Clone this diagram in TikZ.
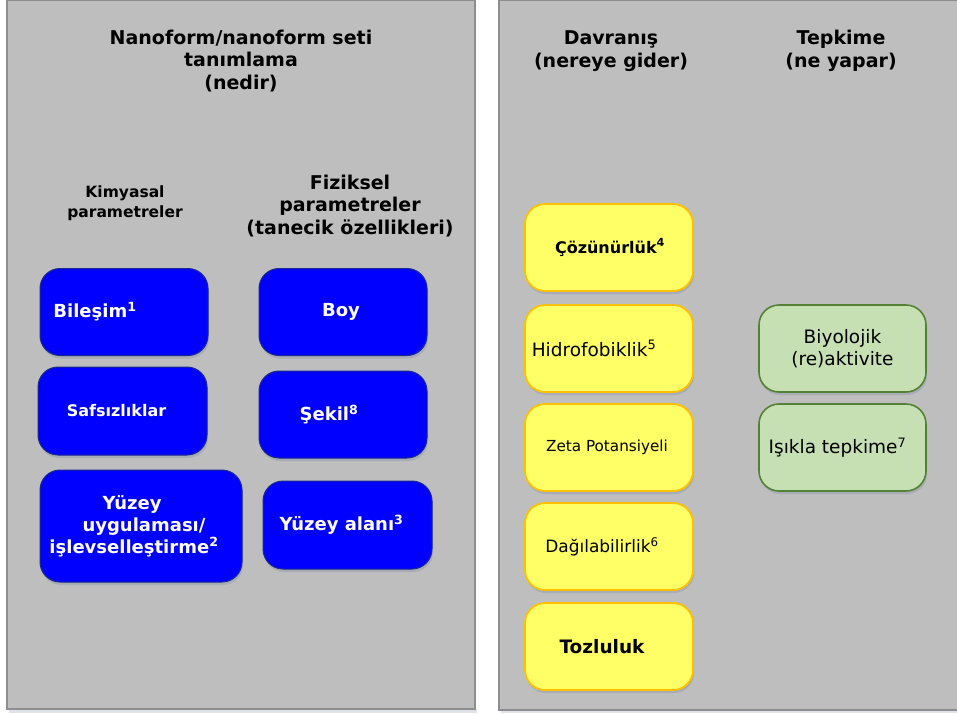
\documentclass[tikz,border=0pt]{standalone}
\usepackage{fontspec}
\setmainfont{DejaVu Sans}
\usetikzlibrary{shadows}
\definecolor{panelfill}{HTML}{BEBEBE}
\definecolor{panelline}{HTML}{8E8E8E}
\definecolor{blueF}{HTML}{0000FF}
\definecolor{blueL}{HTML}{1A2A8C}
\definecolor{yelF}{HTML}{FFFF66}
\definecolor{yelL}{HTML}{FFC000}
\definecolor{grnF}{HTML}{C6E0B4}
\definecolor{grnL}{HTML}{548235}
\definecolor{shadowc}{HTML}{7D8CA8}
\newcommand{\nudge}[2]{\hspace*{#1}#2\hspace*{-#1}}
\tikzset{
  panelbox/.style={draw=panelline, fill=panelfill, line width=1.2pt},
  hdr/.style={align=center, font=\fontsize{19}{22.5}\selectfont\bfseries, text=black, inner sep=0pt},
  cardbase/.style={rounded corners=20pt, minimum width=168pt, minimum height=87pt, inner sep=0pt,
    drop shadow={shadow xshift=1pt, shadow yshift=-3pt, opacity=0.35, fill=shadowc}},
  bluebox/.style={cardbase, draw=blueL, fill=blueF, line width=1pt, text=white,
    font=\fontsize{18}{22}\selectfont\bfseries, align=center},
  yelbox/.style={cardbase, draw=yelL, fill=yelF, line width=1.8pt, text=black, align=center},
  grnbox/.style={cardbase, draw=grnL, fill=grnF, line width=1.6pt, text=black, align=center,
    font=\fontsize{18.5}{22}\selectfont}
}
\begin{document}
\begin{tikzpicture}[x=1pt,y=-1pt]
\useasboundingbox (0,0) rectangle (957,713);
\fill[white] (0,0) rectangle (957,713);
% panels
\fill[shadowc!25] (9,709) rectangle (477,713);
\fill[shadowc!25] (501,710) rectangle (957,713);
\path[panelbox] (7,0.6) rectangle (475,709);
\path[panelbox] (499,0.6) rectangle (960,710);
% headers
\node[hdr] (hleft) at (241,61) {Nanoform/nanoform seti\\tanımlama\\(nedir)};
\node[hdr, font=\fontsize{15.5}{20}\selectfont\bfseries] (hchem) at (125,203) {Kimyasal\\parametreler};
\node[hdr] (hphys) at (350,206) {Fiziksel\\parametreler\\(tanecik özellikleri)};
\node[hdr] (hbeh) at (611,51) {Davranış\\(nereye gider)};
\node[hdr] (hreact) at (841,51) {Tepkime\\(ne yapar)};
% blue boxes
\node[bluebox] (bilesim) at (124,312) {\nudge{-29pt}{Bileşim\textsuperscript{1}}};
\node[bluebox] (boy) at (343,312) {\nudge{-2pt}{Boy}};
\node[bluebox, minimum width=169pt, minimum height=88pt, font=\fontsize{16}{20}\selectfont\bfseries] (safsiz) at (122.5,411) {\nudge{-6pt}{Safsızlıklar}};
\node[bluebox] (sekil) at (343,414.5) {\nudge{-14pt}{Şekil\textsuperscript{8}}};
\node[bluebox, minimum width=202pt, minimum height=112pt] (yuzeyuyg) at (141,526)
  {\nudge{-9pt}{Yüzey}\\\nudge{6pt}{uygulaması/}\\\nudge{-7pt}{işlevselleştirme\textsuperscript{2}}};
\node[bluebox, minimum width=169pt, minimum height=88pt] (yuzeyalan) at (347.5,525) {\nudge{-6pt}{Yüzey alanı\textsuperscript{3}}};
% yellow boxes
\node[yelbox, font=\fontsize{16}{20}\selectfont\bfseries] (cozun) at (609,247.5) {\nudge{1pt}{Çözünürlük\textsuperscript{4}}};
\node[yelbox, font=\fontsize{18.5}{22}\selectfont] (hidro) at (609,348.5) {\nudge{-15pt}{Hidrofobiklik\textsuperscript{5}}};
\node[yelbox, font=\fontsize{15.2}{18}\selectfont] (zeta) at (609,447.5) {\nudge{-2pt}{Zeta Potansiyeli}};
\node[yelbox, font=\fontsize{17}{20}\selectfont] (dagil) at (609,546.5) {\nudge{-7pt}{Dağılabilirlik\textsuperscript{6}}};
\node[yelbox, font=\fontsize{18.5}{22}\selectfont\bfseries] (tozlu) at (609,646.5) {\nudge{-7pt}{Tozluluk}};
% green boxes
\node[grnbox, minimum width=167pt] (biyo) at (842.5,348.5) {Biyolojik\\(re)aktivite};
\node[grnbox, minimum width=167pt] (isik) at (842.5,447.5) {\nudge{-5pt}{Işıkla tepkime\textsuperscript{7}}};
\end{tikzpicture}
\end{document}
